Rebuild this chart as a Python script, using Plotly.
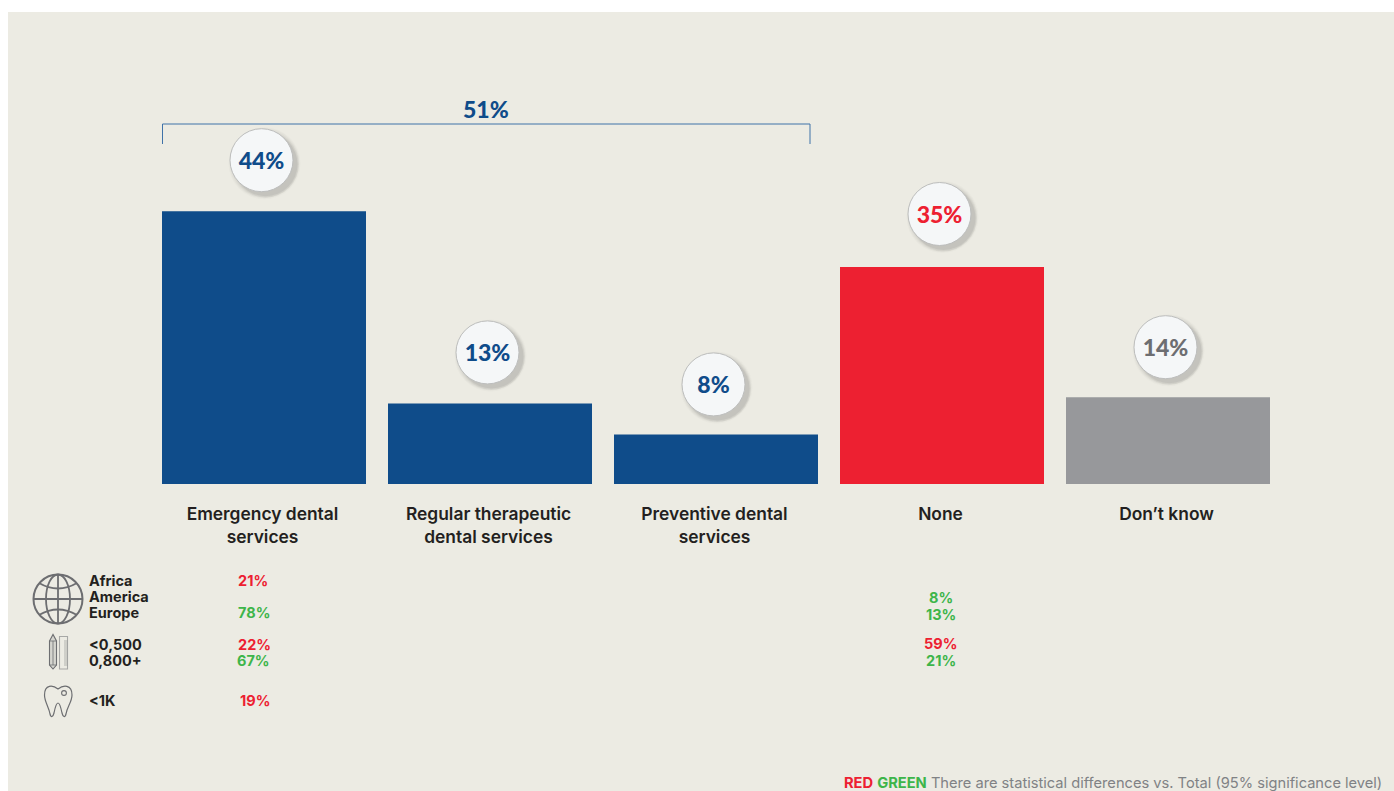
import plotly.graph_objects as go

# Survey results
categories = ["Emergency dental<br>services", "Regular therapeutic<br>dental services",
              "Preventive dental<br>services", "None", "Don’t know"]
values = [44, 13, 8, 35, 14]
combined_label = "51%"

# Significant differences shown under the chart
region_labels = ["Africa", "America", "Europe"]
practice_labels = ["&lt;0,500", "0,800+"]
tooth_labels = ["&lt;1K"]
emergency_notes = ["21%", "78%", "22%", "67%", "19%"]
none_notes = ["8%", "13%", "59%", "21%"]

BLUE, RED, GREY, GREEN = "#0F4C8A", "#ED2031", "#97989B", "#3DB54A"
INK = "#231F20"
ICON = "#6D6E71"
PANEL = "#ECEBE3"
bar_colors = [BLUE, BLUE, BLUE, RED, GREY]
label_colors = [BLUE, BLUE, BLUE, RED, "#6D6E71"]
FONT = "Inter"
BADGE_FONT = "Lato"

W, H = 1394, 791
LEFT, RIGHT, BOTTOM = 151, 1281, 484
PX_PER_UNIT = 6.2


def px(x):
    return (x - LEFT) / (RIGHT - LEFT)


def py(y):
    return (BOTTOM - y) / BOTTOM


fig = go.Figure()
x = list(range(len(values)))
fig.add_bar(x=x, y=values, marker=dict(color=bar_colors, line_width=0), width=204 / 226, hoverinfo="skip")

# Round value badges floating above each bar, with a soft stacked shadow
badge_gap = [51, 51, 50, 53, 50]
badge_y = [v + g / PX_PER_UNIT for v, g in zip(values, badge_gap)]
nudge = -2.5 / 226
for size, offset, alpha in [(72, 3, .025), (70, 3, .035), (68, 3.5, .05), (66, 4, .07), (64, 4, .10)]:
    fig.add_scatter(x=[i + nudge + offset / 226 for i in x], y=[b - offset / PX_PER_UNIT for b in badge_y],
                    mode="markers", hoverinfo="skip",
                    marker=dict(size=size, color=f"rgba(90,90,85,{alpha})", line_width=0))
fig.add_scatter(x=[i + nudge for i in x], y=badge_y, mode="markers", hoverinfo="skip",
                marker=dict(size=63, color="#F5F7F8", line=dict(color="#BDBEBD", width=1)))
fig.add_scatter(x=[i + nudge for i in x], y=[b - 3 / PX_PER_UNIT for b in badge_y], mode="text",
                text=[f"{v}%" for v in values], textposition="middle center", hoverinfo="skip",
                textfont=dict(family=BADGE_FONT, size=23, weight=900, color=label_colors))


def note(text, x0, y0, color=INK, size=14.5, anchor="left", weight=700, family=FONT):
    fig.add_annotation(text=text, x=px(x0), y=py(y0), xref="paper", yref="paper", showarrow=False,
                       xanchor=anchor, yanchor="middle",
                       font=dict(family=family, size=size, color=color, weight=weight))


# Bracket grouping the three service categories
note(combined_label, 486, 109, BLUE, 23, "center", 900, BADGE_FONT)

# Row labels and significance notes
for label, y0 in zip(region_labels + practice_labels + tooth_labels, [580, 596, 612, 644, 660, 700]):
    note(label, 87, y0)
for text, xc, y0, color in zip(emergency_notes, [252.5, 253.5, 254, 253.5, 255],
                               [580, 612, 644, 660, 700], [RED, GREEN, RED, GREEN, RED]):
    note(text, xc, y0, color, anchor="center")
for text, y0, color in zip(none_notes, [597, 614, 643, 660], [GREEN, GREEN, RED, GREEN]):
    note(text, 940.5, y0, color, anchor="center")

# Footnote
fig.add_annotation(
    text=f'<b style="color:{RED}">RED</b> <b style="color:{GREEN}">GREEN</b> There are statistical differences vs. Total (95% significance level)',
    x=px(1384), y=py(782.5), xref="paper", yref="paper", showarrow=False, xanchor="right", yanchor="middle",
    font=dict(family=FONT, size=14.65, color="#808285"))


def path(d, color=ICON, width=1.5, fill=None):
    """Add an outline given as (command, px, py, ...) tuples in page pixels."""
    parts = []
    for seg in d:
        cmd, coords = seg[0], seg[1:]
        pts = [f"{px(coords[i])},{py(coords[i + 1])}" for i in range(0, len(coords), 2)]
        parts.append(cmd + " ".join(pts))
    shape = dict(type="path", xref="paper", yref="paper", path=" ".join(parts),
                 line=dict(color=color, width=width), layer="above")
    if fill:
        shape["fillcolor"] = fill
    shapes.append(shape)


def ellipse(cx, cy, rx, ry, color=ICON, width=2):
    shapes.append(dict(type="circle", xref="paper", yref="paper", x0=px(cx - rx), x1=px(cx + rx),
                       y0=py(cy + ry), y1=py(cy - ry), line=dict(color=color, width=width), layer="above"))


shapes = [dict(type="rect", xref="paper", yref="paper", x0=px(8), x1=px(W + 5), y0=py(12), y1=py(H + 5),
               fillcolor=PANEL, line_width=0, layer="below")]

# Bracket
path([("M", 162.5, 144), ("L", 162.5, 124), ("L", 810, 124), ("L", 810, 144)], "#3F72A8", 1)

# Globe icon
ellipse(58, 599, 24.5, 24.5)
ellipse(58, 599, 12, 24.5, width=1.8)
path([("M", 58, 574.5), ("L", 58, 623.5)], width=1.8)
path([("M", 33.5, 599), ("L", 82.5, 599)], width=1.8)
path([("M", 39, 583), ("Q", 58, 594, 77, 583)], width=1.8)
path([("M", 39, 615), ("Q", 58, 604, 77, 615)], width=1.8)

# Pencil and ruler icon
path([("M", 49.5, 641), ("L", 53, 634.5), ("L", 56.5, 641), ("L", 56.5, 665), ("L", 53, 669), ("L", 49.5, 665), ("Z",)],
     width=1.1, fill="#D5D5CF")
path([("M", 49.5, 641), ("L", 56.5, 641), ("M", 49.5, 665), ("L", 56.5, 665), ("M", 53, 641), ("L", 53, 665)], width=.8)
path([("M", 59.5, 636.5), ("L", 67.5, 636.5), ("L", 67.5, 669), ("L", 59.5, 669), ("Z",)], "#A7A8A6", 1.1)
for tick_y in range(641, 667, 2):
    path([("M", 64, tick_y), ("L", 67.5, tick_y)], "#8E8F8E", .6)

# Tooth icon
path([("M", 58, 689), ("C", 53, 685, 44.5, 684, 44.5, 695), ("C", 44.5, 702, 49, 707, 50, 714),
      ("C", 51, 718, 53, 717, 54, 713), ("C", 55, 708, 56, 703, 58, 703),
      ("C", 60, 703, 61, 708, 62, 713), ("C", 63, 717, 65, 718, 66, 714),
      ("C", 67, 707, 72, 702, 72, 695), ("C", 72, 684, 63, 685, 58, 689)], width=1.2)
ellipse(64, 693, 2.4, 2.4, width=1.1)

fig.update_layout(
    width=W, height=H, autosize=False, showlegend=False, shapes=shapes,
    margin=dict(l=LEFT, r=W - RIGHT, t=0, b=H - BOTTOM, pad=0),
    paper_bgcolor="white", plot_bgcolor="rgba(0,0,0,0)",
    xaxis=dict(range=[-0.5, 4.5], tickmode="array", tickvals=[i - 1.5 / 226 for i in x], ticktext=categories,
               showgrid=False, zeroline=False, showline=False, ticks="", ticklabelstandoff=18,
               tickfont=dict(family=FONT, size=17.4, weight=600, color=INK)),
    yaxis=dict(range=[0, BOTTOM / PX_PER_UNIT], visible=False, fixedrange=True),
)
fig.write_html("out.html", config=dict(displayModeBar=False))
